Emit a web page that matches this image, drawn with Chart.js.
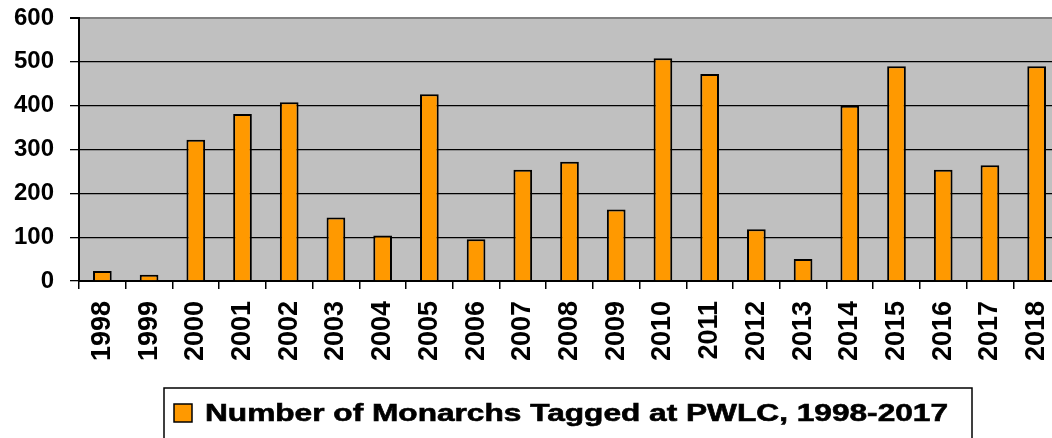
<!DOCTYPE html>
<html>
<head>
<meta charset="utf-8">
<script src="https://cdn.jsdelivr.net/npm/chart.js@4"></script>
<style>
  html, body { margin: 0; padding: 0; background: #fff; overflow: hidden; }
  #wrap { width: 1062px; height: 438px; }
</style>
</head>
<body>
<div id="wrap"><canvas id="barChart" width="1062" height="438"></canvas></div>
<script>
// data
const tahun = ['1998', '1999', '2000', '2001', '2002', '2003', '2004', '2005', '2006', '2007',
  '2008', '2009', '2010', '2011', '2012', '2013', '2014', '2015', '2016', '2017', '2018'];
const jumlahTag = [23, 14, 322, 381, 408, 145, 104, 426, 95, 254,
  272, 163, 508, 472, 118, 50, 400, 490, 254, 264, 490];
const yTicks = [0, 100, 200, 300, 400, 500, 600];
const labelSeri = 'Number of Monarchs Tagged at PWLC, 1998-2017';

const FONT = "'Liberation Sans', Arial, sans-serif";

// latar abu-abu area plot
const plotBg = {
  id: 'plotBg',
  beforeDraw(chart) {
    const { ctx, chartArea: a } = chart;
    ctx.save();
    ctx.fillStyle = '#C0C0C0';
    ctx.fillRect(a.left, a.top, a.right - a.left, a.bottom - a.top);
    ctx.restore();
  }
};

// legend kotak di bawah
const legendBox = {
  id: 'legendBox',
  afterDraw(chart) {
    const ctx = chart.ctx;
    const ds = chart.data.datasets[0];
    ctx.save();
    ctx.strokeStyle = '#000';
    ctx.lineWidth = 1.5;
    ctx.strokeRect(164, 388, 808, 60);
    ctx.fillStyle = ds.backgroundColor;
    ctx.fillRect(174, 404, 18, 18);
    ctx.strokeRect(174, 404, 18, 18);
    ctx.fillStyle = '#000';
    ctx.strokeStyle = '#000';
    ctx.lineWidth = 0.6;
    ctx.font = 'bold 24px ' + FONT;
    ctx.textBaseline = 'alphabetic';
    const w = ctx.measureText(ds.label).width;
    ctx.translate(205, 421);
    ctx.scale(743 / w, 1);
    ctx.fillText(ds.label, 0, 0);
    ctx.strokeText(ds.label, 0, 0);
    ctx.restore();
  }
};

new Chart(document.getElementById('barChart'), {
  type: 'bar',
  data: {
    labels: tahun,
    datasets: [{
      label: labelSeri,
      data: jumlahTag,
      backgroundColor: '#FF9900',
      borderColor: '#000',
      borderWidth: 2,
      barPercentage: 0.4,
      categoryPercentage: 1
    }]
  },
  options: {
    responsive: false,
    animation: false,
    layout: { padding: { top: 18, right: 2, bottom: 57, left: 0 } },
    plugins: {
      legend: { display: false },
      tooltip: { enabled: false }
    },
    scales: {
      x: {
        afterFit(scale) {
          scale.height = 100;
          scale.paddingLeft = 0;
          scale.paddingRight = 0;
        },
        grid: {
          offset: true,
          drawOnChartArea: false,
          color: '#000',
          tickColor: '#000',
          tickLength: 8,
          lineWidth: 1.5
        },
        border: { color: '#000', width: 2 },
        ticks: {
          color: '#000',
          minRotation: 90,
          maxRotation: 90,
          padding: 12,
          autoSkip: false,
          font: { family: FONT, size: 27, weight: 'bold' }
        }
      },
      y: {
        min: 0,
        max: 600,
        afterFit(scale) {
          scale.width = 79;
          scale.paddingTop = 0;
          scale.paddingBottom = 0;
        },
        afterBuildTicks(scale) { scale.ticks = yTicks.map(v => ({ value: v })); },
        grid: {
          color: ctx => (ctx.tick && ctx.tick.value === 600 ? '#808080' : '#000'),
          tickColor: '#000',
          tickLength: 9,
          lineWidth: ctx => (ctx.tick && ctx.tick.value === 600 ? 2 : 1.3)
        },
        border: { color: '#000', width: 2 },
        ticks: {
          color: '#000',
          padding: 16,
          font: { family: FONT, size: 24, weight: 'bold' }
        }
      }
    }
  },
  plugins: [plotBg, legendBox]
});
</script>
</body>
</html>
